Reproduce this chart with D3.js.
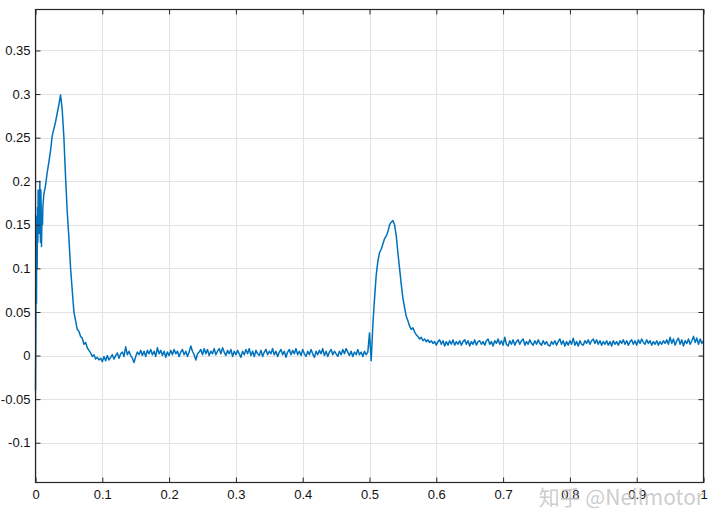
<!DOCTYPE html>
<html>
<head>
<meta charset="utf-8">
<script src="https://cdn.jsdelivr.net/npm/d3@7"></script>
<style>
  html, body { margin: 0; padding: 0; background: #fff; }
  svg { display: block; }
  .tick text { font-family: "Liberation Sans", Arial, Helvetica, sans-serif; font-size: 13px; fill: #111; }
</style>
</head>
<body>
<svg id="chart" width="720" height="530"></svg>
<script>
// ---------- data ----------
const xTicks = [0, 0.1, 0.2, 0.3, 0.4, 0.5, 0.6, 0.7, 0.8, 0.9, 1];
const xTickLabels = ["0", "0.1", "0.2", "0.3", "0.4", "0.5", "0.6", "0.7", "0.8", "0.9", "1"];
const yTicks = [-0.1, -0.05, 0, 0.05, 0.1, 0.15, 0.2, 0.25, 0.3, 0.35];
const yTickLabels = ["-0.1", "-0.05", "0", "0.05", "0.1", "0.15", "0.2", "0.25", "0.3", "0.35"];

// start-up burst: t = 0 .. 0.012, step 0.0005
const burstStart = 0, burstStep = 0.0005;
const burstValues = [
  -0.040, 0.030, 0.140, 0.060, 0.160, 0.100, 0.170, 0.130, 0.190, 0.150,
  0.140, 0.180, 0.160, 0.200, 0.150, 0.130, 0.190, 0.170, 0.125, 0.150,
  0.160, 0.150, 0.170, 0.175, 0.180
];

// main trace: t = 0.0125 .. 1.0, step 0.0025
const mainStart = 0.0125, mainStep = 0.0025;
const mainValues = [
  0.185, 0.195, 0.21, 0.222, 0.235,
  0.252, 0.26, 0.268, 0.278, 0.288, 0.299, 0.282, 0.25, 0.205, 0.165,
  0.135, 0.1, 0.075, 0.05, 0.04, 0.03, 0.028, 0.022, 0.02, 0.013,
  0.015, 0.009, 0.006, 0.003, -0.001, 0.001, -0.004, -0.002, -0.005, -0.003,
  -0.007, -0.001, -0.006, 0.0, -0.005, -0.002, 0.001, -0.004, 0.0, 0.003,
  -0.003, 0.002, 0.004, -0.001, 0.010, 0.001, 0.005, 0.0, -0.003, -0.008,
  -0.001, 0.004, 0.001, 0.006, 0.0, 0.005, -0.001, 0.006, 0.002, 0.007,
  0.001, 0.005, -0.001, 0.009, 0.002, 0.006, 0.0, 0.005, -0.002, 0.004,
  0.0, 0.006, 0.001, 0.007, 0.002, 0.005, -0.001, 0.004, 0.007, 0.001,
  0.005, -0.001, 0.004, 0.011, 0.005, 0.001, -0.005, 0.002, 0.004, 0.007,
  0.001, 0.008, 0.002, 0.007, 0.0, 0.005, 0.002, 0.008, 0.001, 0.005,
  0.008, 0.002, 0.009, 0.004, 0.0, 0.006, 0.002, 0.007, -0.001, 0.005,
  0.001, 0.006, 0.002, -0.002, 0.005, 0.001, 0.007, 0.002, 0.008, 0.0,
  0.005, -0.001, 0.006, 0.002, 0.0, 0.006, -0.001, 0.004, 0.007, 0.001,
  0.005, 0.002, 0.008, 0.001, 0.005, -0.001, 0.004, 0.007, 0.001, 0.005,
  -0.002, 0.004, 0.007, 0.001, 0.006, 0.002, 0.008, 0.001, 0.005, 0.0,
  0.007, 0.002, -0.001, 0.005, 0.001, 0.007, 0.002, -0.002, 0.005, 0.001,
  0.006, 0.002, 0.008, 0.0, 0.005, -0.001, 0.004, 0.007, 0.001, 0.005,
  0.002, -0.001, 0.005, 0.001, 0.007, 0.002, 0.008, 0.004, 0.0, 0.005,
  -0.001, 0.004, 0.001, 0.007, 0.001, 0.004, -0.001, 0.005, 0.001, 0.004,
  0.026, -0.006, 0.035, 0.065, 0.092, 0.108, 0.118, 0.122, 0.128, 0.134,
  0.137, 0.142, 0.150, 0.153, 0.155, 0.150, 0.138, 0.118, 0.100, 0.082,
  0.066, 0.055, 0.045, 0.040, 0.034, 0.030, 0.032, 0.027, 0.024, 0.022,
  0.019, 0.021, 0.017, 0.019, 0.016, 0.018, 0.015, 0.017, 0.014, 0.016,
  0.012, 0.016, 0.018, 0.013, 0.017, 0.011, 0.016, 0.012, 0.017, 0.013,
  0.018, 0.012, 0.016, 0.013, 0.017, 0.012, 0.016, 0.018, 0.013, 0.017,
  0.011, 0.016, 0.013, 0.018, 0.012, 0.016, 0.017, 0.013, 0.016, 0.012,
  0.017, 0.019, 0.013, 0.016, 0.011, 0.017, 0.014, 0.019, 0.013, 0.017,
  0.012, 0.021, 0.013, 0.011, 0.017, 0.013, 0.018, 0.012, 0.016, 0.018,
  0.013, 0.017, 0.019, 0.012, 0.016, 0.013, 0.018, 0.014, 0.012, 0.017,
  0.013, 0.018, 0.014, 0.012, 0.017, 0.013, 0.016, 0.012, 0.011, 0.016,
  0.013, 0.017, 0.012, 0.016, 0.019, 0.013, 0.017, 0.011, 0.016, 0.012,
  0.017, 0.013, 0.020, 0.012, 0.016, 0.011, 0.017, 0.013, 0.012, 0.017,
  0.014, 0.018, 0.013, 0.017, 0.019, 0.014, 0.018, 0.013, 0.017, 0.012,
  0.016, 0.013, 0.017, 0.012, 0.016, 0.011, 0.017, 0.013, 0.016, 0.012,
  0.017, 0.014, 0.018, 0.013, 0.017, 0.012, 0.016, 0.018, 0.013, 0.017,
  0.012, 0.018, 0.014, 0.019, 0.015, 0.013, 0.018, 0.014, 0.017, 0.012,
  0.016, 0.013, 0.017, 0.012, 0.016, 0.013, 0.017, 0.014, 0.018, 0.013,
  0.021, 0.014, 0.019, 0.012, 0.017, 0.020, 0.013, 0.018, 0.011, 0.017,
  0.014, 0.019, 0.013, 0.017, 0.022, 0.015, 0.020, 0.013, 0.019, 0.014,
  0.017
];

const watermarkText = "知乎 @Neilmotor";

// ---------- build points ----------
const points = [];
burstValues.forEach((v, i) => points.push([burstStart + i * burstStep, v]));
mainValues.forEach((v, i) => points.push([mainStart + i * mainStep, v]));

// ---------- layout ----------
const L = 35.5, R = 703.5, T = 9.5, B = 482.5;
const x = d3.scaleLinear().domain([0, 1]).range([L, R]);
const y = d3.scaleLinear().domain([-0.1456, 0.397]).range([B, T]);

const svg = d3.select("#chart");

// grid
const grid = svg.append("g").attr("stroke", "#e3e3e3").attr("stroke-width", 1);
grid.selectAll("line.vx").data(xTicks).join("line")
  .attr("x1", d => Math.round(x(d)) + 0.5).attr("x2", d => Math.round(x(d)) + 0.5)
  .attr("y1", T).attr("y2", B);
grid.selectAll("line.hy").data(yTicks).join("line")
  .attr("y1", d => Math.round(y(d)) + 0.5).attr("y2", d => Math.round(y(d)) + 0.5)
  .attr("x1", L).attr("x2", R);

// data line
const line = d3.line().x(d => x(d[0])).y(d => y(d[1]));
svg.append("path").datum(points)
  .attr("fill", "none").attr("stroke", "#0072BD")
  .attr("stroke-width", 1.5).attr("stroke-linejoin", "round")
  .attr("d", line);

// axes (ticks inside, mirrored)
const axisColor = "#262626";
const xb = svg.append("g").attr("transform", `translate(0,${B})`)
  .call(d3.axisBottom(x).tickValues(xTicks).tickFormat((d, i) => xTickLabels[i])
    .tickSizeInner(-5).tickSizeOuter(0).tickPadding(12));
const xt = svg.append("g").attr("transform", `translate(0,${T})`)
  .call(d3.axisTop(x).tickValues(xTicks).tickFormat("").tickSizeInner(-5).tickSizeOuter(0));
const yl = svg.append("g").attr("transform", `translate(${L},0)`)
  .call(d3.axisLeft(y).tickValues(yTicks).tickFormat((d, i) => yTickLabels[i])
    .tickSizeInner(-5).tickSizeOuter(0).tickPadding(5));
const yr = svg.append("g").attr("transform", `translate(${R},0)`)
  .call(d3.axisRight(y).tickValues(yTicks).tickFormat("").tickSizeInner(-5).tickSizeOuter(0));
[xb, xt, yl, yr].forEach(g => {
  g.selectAll(".domain").remove();
  g.selectAll(".tick line").attr("stroke", axisColor);
});
xb.selectAll(".tick text").attr("dy", "0.71em").attr("y", 7);

// box
svg.append("rect").attr("x", L).attr("y", T).attr("width", R - L).attr("height", B - T)
  .attr("fill", "none").attr("stroke", axisColor).attr("stroke-width", 1.2);

// watermark
svg.append("text")
  .attr("x", 704).attr("y", 505)
  .attr("text-anchor", "end")
  .attr("font-family", "'Noto Sans CJK SC', 'Liberation Sans', sans-serif")
  .attr("font-size", 21)
  .attr("fill", "#c4c4c4")
  .attr("fill-opacity", 0.85)
  .text(watermarkText);
</script>
</body>
</html>
